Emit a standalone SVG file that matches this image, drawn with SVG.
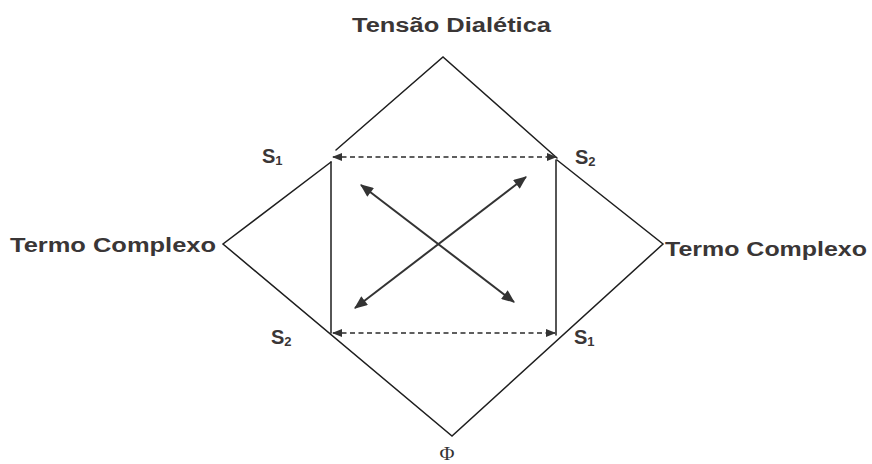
<svg xmlns="http://www.w3.org/2000/svg" width="872" height="464" viewBox="0 0 872 464">
<style>
.bg{fill:#ffffff}
.ln{stroke:#1e1e1e;stroke-width:1.5;fill:none;stroke-linecap:round}
.dash{stroke:#2a2a2a;stroke-width:1.5;fill:none;stroke-dasharray:5,3.5}
.arr{stroke:#333333;stroke-width:2;fill:none}
.lbl{font-family:"Liberation Sans",Arial,sans-serif;font-weight:bold;fill:#3a3636}
.phi{font-family:"Liberation Serif","Times New Roman",serif;fill:#333333}
</style>
<defs>
<marker id="ah" viewBox="0 0 10 8" refX="9" refY="4" markerWidth="10" markerHeight="8" markerUnits="userSpaceOnUse" orient="auto-start-reverse">
<path d="M0,0 L10,4 L0,8 Z" fill="#333333"/>
</marker>
<marker id="ahb" viewBox="0 0 12 10" refX="11" refY="5" markerWidth="14" markerHeight="11" markerUnits="userSpaceOnUse" orient="auto-start-reverse">
<path d="M0,0 L12,5 L0,10 Z" fill="#333333"/>
</marker>
</defs>
<rect class="bg" width="872" height="464"/>
<g id="diamond">
<polyline class="ln" points="336,150 443,57 557,158"/>
<polyline class="ln" points="557,160 663,244 452,436 223,244 331,162"/>
</g>
<g id="square">
<line class="ln" x1="331" y1="162" x2="331" y2="333"/>
<line class="ln" x1="556" y1="160" x2="556" y2="335"/>
</g>
<g id="connectors">
<line class="dash" x1="333" y1="157" x2="556" y2="157" marker-start="url(#ah)" marker-end="url(#ah)"/>
<line class="dash" x1="333" y1="333" x2="555" y2="333" marker-start="url(#ah)" marker-end="url(#ah)"/>
<line class="arr" x1="361" y1="185" x2="514" y2="302" marker-start="url(#ahb)" marker-end="url(#ahb)"/>
<line class="arr" x1="526" y1="177" x2="355" y2="308" marker-start="url(#ahb)" marker-end="url(#ahb)"/>
</g>
<g id="label-top">
<text class="lbl" x="352" y="32" font-size="20" textLength="199" lengthAdjust="spacingAndGlyphs">Tensão Dialética</text>
</g>
<g id="label-left">
<text class="lbl" x="10" y="252" font-size="21" textLength="206" lengthAdjust="spacingAndGlyphs">Termo Complexo</text>
</g>
<g id="label-right">
<text class="lbl" x="665" y="256" font-size="21" textLength="202" lengthAdjust="spacingAndGlyphs">Termo Complexo</text>
</g>
<g id="s1-top">
<text class="lbl" x="262" y="163" font-size="20">S<tspan font-size="13" dy="2">1</tspan></text>
</g>
<g id="s2-top">
<text class="lbl" x="575" y="164" font-size="20">S<tspan font-size="13" dy="2">2</tspan></text>
</g>
<g id="s2-bottom">
<text class="lbl" x="271" y="344" font-size="20">S<tspan font-size="13" dy="2">2</tspan></text>
</g>
<g id="s1-bottom">
<text class="lbl" x="574" y="344" font-size="20">S<tspan font-size="13" dy="2">1</tspan></text>
</g>
<g id="label-bottom">
<text class="phi" x="447" y="460" font-size="19" text-anchor="middle" textLength="15" lengthAdjust="spacingAndGlyphs">Φ</text>
</g>
</svg>
